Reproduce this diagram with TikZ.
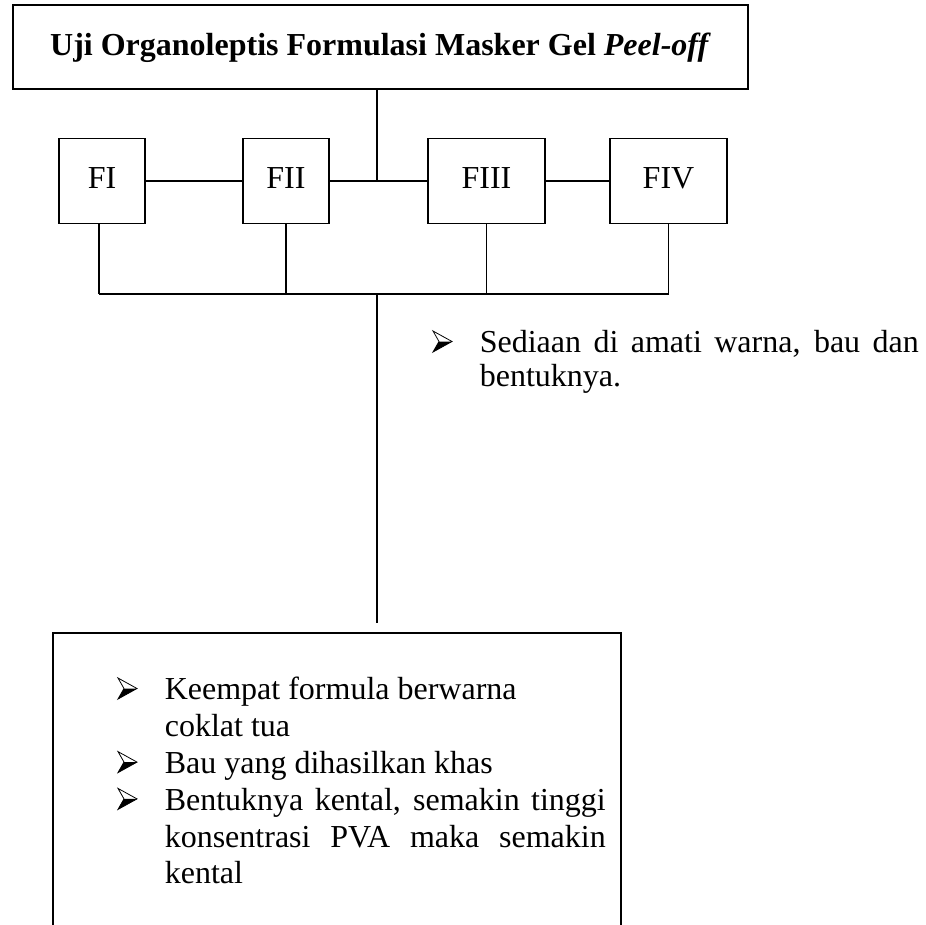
\documentclass[tikz,border=0pt]{standalone}
\usepackage{fontspec}
\setmainfont{Liberation Serif}
\usetikzlibrary{calc}
\newcommand{\bulitem}{\hangindent=46pt\hangafter=1\noindent\hspace*{46pt}}
\begin{document}
\begin{tikzpicture}[x=1pt,y=-1pt,line width=1.6pt,
  box/.style={draw,rectangle,inner sep=0pt,line width=1.6pt,font=\fontsize{32}{36.8}\selectfont},
  fbox/.style={box,minimum height=85pt,text height=20pt,text depth=5pt},
  wire/.style={line width=1.5pt},
  bus/.style={line width=2pt},
  listtext/.style={anchor=north west,inner sep=0pt,align=justify,font=\fontsize{32}{36.8}\selectfont},
  arrbul/.pic={
    \fill (6,-10.5) -- (19,-10.5) -- (0,0) -- cycle;
    \draw[line width=0.8pt,line join=miter] (0,-21) -- (19,-10.5) -- (0,0) -- (6,-10.5) -- cycle;
  }]
\useasboundingbox (0,0) rectangle (926,924);
\clip (0,0) rectangle (926,924);

% title
\node[box,minimum width=735pt,minimum height=84pt,text height=22pt,text depth=6pt,
  font=\fontsize{32}{36.8}\selectfont\bfseries] (title) at (380.5,47)
  {Uji Organoleptis Formulasi Masker Gel \textit{Peel-off}};

% formula boxes
\node[fbox,minimum width=86pt] (F1) at (102,181) {FI};
\node[fbox,minimum width=86pt] (F2) at (286,181) {FII};
\node[fbox,minimum width=117pt] (F3) at (486.5,181) {FIII};
\node[fbox,minimum width=117pt] (F4) at (668.5,181) {FIV};

\coordinate (j1) at (377,181);
\coordinate (bl) at (99,294);
\coordinate (br) at (669,294);
\coordinate (j2) at (377,294);
\coordinate (j3) at (377,623);

\draw[wire] (title.south -| j1) -- (j1);
\draw[wire] (F1.east) -- (F2.west);
\draw[wire] (F2.east) -- (F3.west);
\draw[wire] (F3.east) -- (F4.west);
\draw[wire] (F1.south -| bl) -- (bl);
\draw[wire] (F2.south) -- (F2.south |- j2);
\draw[wire] (F3.south) -- (F3.south |- j2);
\draw[wire] (F4.south) -- (F4.south |- j2);
\draw[bus] (bl) -- (br);
\draw[wire] (j2) -- (j3);

% side note
\node[listtext,text width=485pt,font=\fontsize{32}{34}\selectfont] (note) at (433,327)
  {\bulitem\rule{0pt}{25pt}Sediaan di amati warna, bau dan\break bentuknya.\par};
\pic at (433,352) {arrbul};

% result box
\node[box,minimum width=568pt,minimum height=310pt] (res) at (337,788) {};
\node[listtext,text width=487pt] (list) at (118,674)
  {\bulitem\rule{0pt}{25pt}Keempat formula berwarna\hfil\break coklat tua\par
   \bulitem Bau yang dihasilkan khas\par
   \bulitem Bentuknya kental, semakin tinggi\break konsentrasi PVA maka semakin\break kental\par};
\pic at (118,699) {arrbul};
\pic at (118,772.6) {arrbul};
\pic at (118,809.4) {arrbul};
\end{tikzpicture}
\end{document}
